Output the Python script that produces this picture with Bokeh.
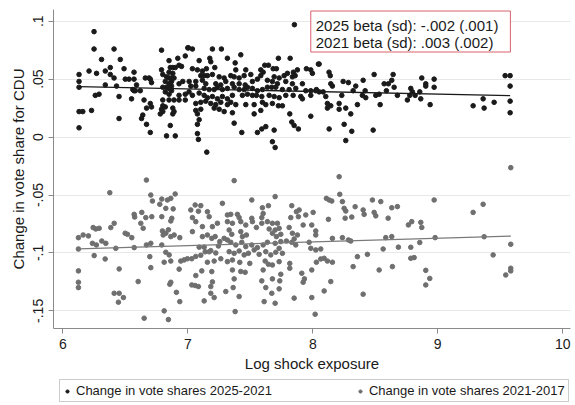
import numpy as np
from bokeh.plotting import figure
from bokeh.layouts import column
from bokeh.models import (Range1d, FixedTicker, Label, Legend, LegendItem)
from bokeh.embed import file_html
from bokeh.resources import INLINE

# ---------------- data ----------------
x_2025 = [
    6.25, 6.25, 6.41, 6.31, 6.46, 6.79, 7.00, 6.98, 6.13, 6.13, 6.13, 6.21, 6.27, 6.34, 6.38, 6.38,
    6.41, 6.49, 6.50, 6.53, 6.57, 6.57, 6.66, 6.69, 6.70, 6.71, 6.34, 6.43, 6.59, 6.56, 6.57, 6.58,
    6.62, 6.26, 6.29, 6.45, 6.55, 6.65, 6.70, 6.71, 6.67, 6.13, 6.16, 6.23, 6.64, 6.63, 6.45, 6.67,
    6.70, 6.13, 6.79, 6.80, 6.85, 6.86, 6.88, 6.90, 6.92, 6.93, 6.95, 6.85, 6.88, 6.83, 6.85, 6.87,
    6.89, 6.82, 6.85, 6.87, 6.80, 6.83, 6.85, 6.87, 6.93, 6.96, 6.82, 6.85, 6.87, 6.93, 6.98, 7.01,
    6.80, 6.85, 6.89, 6.93, 6.98, 6.80, 6.79, 6.82, 6.88, 6.89, 6.88, 6.78, 6.80, 6.86, 6.83, 6.90,
    7.853, 7.005, 7.037, 7.197, 7.269, 7.317, 7.424, 7.091, 7.176, 7.184, 7.379, 7.725, 7.819,
    7.037, 7.077, 7.117, 7.149, 7.216, 7.384, 7.464, 7.616, 7.645, 7.683, 7.709, 7.797, 7.845,
    7.877, 7.949, 7.984, 7.997, 8.045, 7.104, 7.131, 7.157, 7.197, 7.251, 7.291, 7.344, 7.371,
    7.411, 7.451, 7.504, 7.584, 7.603, 7.584, 7.691, 7.731, 7.771, 7.837, 7.859, 7.011, 7.064,
    7.117, 7.144, 7.224, 7.264, 7.304, 7.357, 7.411, 7.459, 7.517, 7.557, 7.637, 7.677, 7.717,
    7.784, 7.837, 7.917, 7.024, 7.064, 7.131, 7.171, 7.211, 7.237, 7.277, 7.317, 7.371, 7.411,
    7.451, 7.477, 7.517, 7.557, 7.597, 7.637, 7.672, 7.704, 7.757, 7.811, 7.864, 7.944, 7.984,
    8.029, 7.037, 7.091, 7.131, 7.157, 7.197, 7.237, 7.277, 7.317, 7.357, 7.437, 7.477, 7.517,
    7.549, 7.592, 7.651, 7.691, 7.731, 7.784, 7.843, 7.904, 7.984, 7.064, 7.104, 7.144, 7.184,
    7.224, 7.264, 7.317, 7.344, 7.384, 7.464, 7.531, 7.597, 7.624, 7.677, 7.725, 7.757, 7.917,
    7.064, 7.104, 7.077, 7.211, 7.251, 7.291, 7.357, 7.531, 7.584, 7.816, 7.984, 7.091, 7.077,
    7.371, 7.624, 7.592, 7.557, 7.432, 7.691, 7.832, 7.851, 7.885, 7.077, 7.085, 7.677, 7.699,
    7.152,
    8.677, 8.051, 8.13, 8.14, 8.491, 8.643, 8.243, 8.285, 8.403, 8.571, 8.605, 8.632, 8.872,
    8.904, 8.971, 8.144, 8.157, 8.344, 8.323, 8.024, 8.051, 8.083, 8.419, 8.397, 8.589, 8.651,
    8.677, 8.424, 8.504, 8.531, 8.784, 8.797, 8.819, 8.856, 8.904, 8.971, 8.776, 8.232, 8.104,
    8.757, 8.864, 8.117, 8.144, 8.117, 8.211, 8.211, 8.264, 8.357, 8.539, 8.939, 8.304, 8.131,
    8.251, 8.312, 8.483, 8.264,
    9.539, 9.579, 9.579, 9.363, 9.451, 9.283, 9.371, 9.579, 9.579,
]
y_2025 = [
    0.091, 0.076, 0.076, 0.067, 0.067, 0.075, 0.077, 0.070, 0.054, 0.048, 0.043, 0.057, 0.055, 0.057, 0.060, 0.054,
    0.051, 0.059, 0.050, 0.050, 0.056, 0.050, 0.051, 0.051, 0.050, 0.047, 0.045, 0.044, 0.045, 0.041, 0.040, 0.040,
    0.040, 0.036, 0.037, 0.035, 0.033, 0.032, 0.029, 0.026, 0.025, 0.022, 0.022, 0.023, 0.019, 0.016, 0.016, 0.011,
    0.004, 0.008, 0.058, 0.054, 0.066, 0.060, 0.060, 0.060, 0.068, 0.062, 0.061, 0.056, 0.055, 0.052, 0.051, 0.051,
    0.051, 0.048, 0.046, 0.048, 0.043, 0.043, 0.042, 0.044, 0.046, 0.048, 0.039, 0.037, 0.040, 0.036, 0.037, 0.039,
    0.032, 0.032, 0.032, 0.032, 0.032, 0.027, 0.024, 0.026, 0.025, 0.022, 0.020, 0.020, 0.022, 0.010, 0.001, 0.001,
    0.097, 0.077, 0.076, 0.076, 0.076, 0.068, 0.071, 0.066, 0.068, 0.065, 0.064, 0.068, 0.068,
    0.059, 0.058, 0.057, 0.059, 0.060, 0.058, 0.058, 0.062, 0.062, 0.059, 0.059, 0.055, 0.056,
    0.058, 0.059, 0.058, 0.055, 0.063, 0.053, 0.053, 0.053, 0.054, 0.052, 0.051, 0.053, 0.052,
    0.051, 0.053, 0.054, 0.058, 0.056, 0.053, 0.052, 0.051, 0.053, 0.052, 0.053, 0.048, 0.048,
    0.049, 0.046, 0.046, 0.045, 0.048, 0.046, 0.046, 0.045, 0.048, 0.050, 0.049, 0.048, 0.046,
    0.048, 0.046, 0.046, 0.044, 0.044, 0.042, 0.041, 0.041, 0.043, 0.041, 0.042, 0.043, 0.041,
    0.041, 0.043, 0.042, 0.040, 0.041, 0.043, 0.043, 0.043, 0.041, 0.041, 0.042, 0.040, 0.040,
    0.041, 0.036, 0.038, 0.036, 0.034, 0.035, 0.033, 0.035, 0.033, 0.036, 0.036, 0.037, 0.036,
    0.036, 0.035, 0.036, 0.035, 0.034, 0.036, 0.036, 0.035, 0.036, 0.029, 0.030, 0.031, 0.029,
    0.028, 0.030, 0.028, 0.030, 0.028, 0.028, 0.028, 0.030, 0.028, 0.029, 0.027, 0.027, 0.033,
    0.023, 0.024, 0.020, 0.025, 0.024, 0.022, 0.021, 0.020, 0.023, 0.020, 0.018, 0.015, 0.011,
    0.012, 0.009, 0.007, 0.004, 0.004, 0.006, 0.013, 0.010, 0.007, 0.003, -0.002, -0.004, -0.009,
    -0.013,
    0.078, 0.063, 0.056, 0.053, 0.054, 0.054, 0.048, 0.047, 0.049, 0.046, 0.046, 0.049, 0.051,
    0.046, 0.050, 0.046, 0.044, 0.044, 0.040, 0.040, 0.039, 0.039, 0.040, 0.036, 0.040, 0.043,
    0.036, 0.034, 0.036, 0.037, 0.042, 0.039, 0.036, 0.039, 0.044, 0.043, 0.036, 0.036, 0.035,
    0.032, 0.033, 0.029, 0.027, 0.025, 0.029, 0.024, 0.025, 0.028, 0.028, 0.028, 0.020, 0.007,
    0.011, 0.005, 0.006, -0.003,
    0.053, 0.053, 0.044, 0.033, 0.030, 0.027, 0.025, 0.031, 0.021,
]

x_2021 = [
    6.669, 6.376, 6.704, 6.717, 6.792, 6.837, 6.864, 6.899, 6.776, 6.824, 6.883, 6.632, 6.571, 6.575,
    6.664, 6.712, 6.792, 6.872, 6.864, 6.624, 6.643, 6.411, 6.384, 6.243, 6.264, 6.291, 6.499, 6.517,
    6.552, 6.797, 6.824, 6.845, 6.803, 6.864, 6.891, 6.936, 7.024, 7.037, 7.059, 7.104, 7.085, 7.157,
    7.171, 7.197, 7.237, 7.277, 7.064, 7.117, 7.037, 7.117, 7.157, 7.192, 7.219, 7.256, 7.291, 6.125,
    6.163, 6.205, 6.125, 6.237, 6.269, 6.312, 6.344, 6.424, 6.571, 6.669, 6.704, 6.792, 6.824, 6.851,
    6.251, 6.339, 6.696, 6.704, 6.811, 6.864, 6.944, 6.971, 6.931, 6.997, 7.032, 7.064, 7.104, 7.139,
    7.184, 7.091, 7.131, 7.171, 7.224, 7.245, 7.157, 7.211, 7.264, 7.112, 7.192, 7.064, 7.032, 7.059,
    7.085, 7.197, 7.184, 6.125, 6.125, 6.125, 6.451, 6.603, 6.864, 6.856, 6.909, 6.936, 7.131, 7.184,
    7.211, 6.411, 6.451, 6.485, 6.445, 6.811, 6.845, 6.651,
    7.371, 8.211, 8.216, 7.512, 7.699, 8.109, 8.131, 8.152, 8.237, 8.251, 8.264, 8.477, 8.544, 8.339,
    8.403, 8.411, 8.491, 8.504, 8.632, 8.603, 8.312, 8.259, 8.125, 7.317, 7.344, 7.397, 7.411,
    7.597, 7.645, 7.603, 7.592, 7.832, 7.869, 7.891, 7.944, 8.003, 7.824, 7.885, 7.317, 7.357, 7.424,
    7.464, 7.512, 7.517, 7.549, 7.592, 7.637, 7.677, 7.717, 7.651, 7.699, 7.731, 7.677, 7.744, 7.709,
    7.923, 7.992, 8.024, 7.811, 7.837, 7.877, 8.024, 7.331, 7.352, 7.424, 7.437, 7.469, 8.157, 8.237,
    8.285, 8.304, 8.584, 8.632, 7.317, 7.344, 7.384, 7.432, 7.464, 7.512, 7.557, 7.603, 7.637, 7.699,
    7.744, 7.789, 7.832, 7.864, 7.851, 7.971, 7.984, 8.024, 8.064, 8.563, 7.331, 7.371, 7.411,
    7.451, 7.485, 7.531, 7.571, 7.624, 7.664, 7.704, 7.757, 7.731, 7.317, 7.357, 7.416, 7.496, 7.619,
    7.645, 7.677, 7.731, 7.816, 7.816, 8.029, 8.064, 8.091, 8.117, 8.157, 8.323, 8.357, 8.437, 8.531,
    8.637, 7.357, 7.424, 7.459, 7.603, 7.744, 7.912, 7.992, 7.371, 7.592, 7.677, 7.736, 7.933, 7.923,
    8.144, 7.304, 7.363, 7.411, 7.624, 7.672, 7.731, 7.851, 7.992, 8.091, 8.403, 7.611, 7.699, 7.379,
    8.019,
    9.584, 8.677, 8.971, 9.363, 9.283, 8.765, 8.792, 8.864, 8.872, 8.979, 9.371, 9.584, 8.685, 8.784,
    8.856, 8.784, 8.811, 9.443, 8.904, 8.936, 8.904, 9.584, 9.584, 9.544,
]
y_2021 = [
    -0.0371, -0.0480, -0.0500, -0.0552, -0.0535, -0.0543, -0.0529, -0.0491, -0.0580, -0.0615, -0.0620, -0.0650, -0.0667, -0.0690,
    -0.0695, -0.0687, -0.0687, -0.0701, -0.0724, -0.0744, -0.0787, -0.0744, -0.0781, -0.0781, -0.0793, -0.0787, -0.0830, -0.0839,
    -0.0868, -0.0810, -0.0830, -0.0800, -0.0845, -0.0859, -0.0845, -0.0868, -0.0629, -0.0695, -0.0586, -0.0592, -0.0640, -0.0644,
    -0.0687, -0.0773, -0.0744, -0.0572, -0.0730, -0.0773, -0.0816, -0.0859, -0.0845, -0.0874, -0.0859, -0.0902, -0.0874, -0.0868,
    -0.0845, -0.0853, -0.0966, -0.0917, -0.0931, -0.0897, -0.0917, -0.0960, -0.0954, -0.0931, -0.0917, -0.0931, -0.0994, -0.1017,
    -0.1023, -0.1052, -0.1032, -0.1127, -0.1080, -0.1070, -0.1070, -0.1060, -0.1140, -0.1050, -0.1050, -0.1030, -0.1020, -0.0990,
    -0.0980, -0.0950, -0.0950, -0.0990, -0.1000, -0.0940, -0.1080, -0.1070, -0.1050, -0.1155, -0.1161, -0.1195, -0.1276, -0.1281,
    -0.1290, -0.1250, -0.1290, -0.1155, -0.1253, -0.1299, -0.1138, -0.1247, -0.1253, -0.1270, -0.1340, -0.1420, -0.1414, -0.1348,
    -0.1385, -0.1348, -0.1348, -0.1385, -0.1425, -0.1500, -0.1575, -0.1563,
    -0.0376, -0.0342, -0.0494, -0.0543, -0.0514, -0.0529, -0.0543, -0.0552, -0.0557, -0.0615, -0.0638, -0.0543, -0.0557, -0.0601,
    -0.0629, -0.0667, -0.0650, -0.0680, -0.0610, -0.0700, -0.0690, -0.0700, -0.0710, -0.0672, -0.0667, -0.0667, -0.0695,
    -0.0610, -0.0592, -0.0660, -0.0695, -0.0592, -0.0644, -0.0629, -0.0672, -0.0650, -0.0695, -0.0687, -0.0730, -0.0744, -0.0730,
    -0.0759, -0.0701, -0.0730, -0.0780, -0.0744, -0.0730, -0.0744, -0.0744, -0.0793, -0.0802, -0.0787, -0.0830, -0.0839, -0.0859,
    -0.0759, -0.0759, -0.0810, -0.0780, -0.0830, -0.0845, -0.0845, -0.0802, -0.0839, -0.0816, -0.0859, -0.0845, -0.0874, -0.0868,
    -0.0888, -0.0897, -0.0868, -0.0859, -0.0888, -0.0908, -0.0931, -0.0908, -0.0945, -0.0931, -0.0954, -0.0931, -0.0908, -0.0917,
    -0.0902, -0.0897, -0.0908, -0.0931, -0.0879, -0.0908, -0.0960, -0.0974, -0.0966, -0.0966, -0.0989, -0.1003, -0.0983,
    -0.1017, -0.1003, -0.0974, -0.1012, -0.0989, -0.1017, -0.0994, -0.1003, -0.0960, -0.1075, -0.1061, -0.1081, -0.1090, -0.1070,
    -0.1098, -0.1104, -0.1075, -0.1090, -0.1132, -0.1080, -0.1052, -0.1046, -0.1070, -0.1080, -0.1118, -0.1032, -0.1012, -0.1147,
    -0.1118, -0.1147, -0.1160, -0.1167, -0.1147, -0.1184, -0.1175, -0.1147, -0.1224, -0.1241, -0.1224, -0.1241, -0.1224, -0.1253,
    -0.1247, -0.1333, -0.1299, -0.1376, -0.1299, -0.1348, -0.1310, -0.1390, -0.1385, -0.1328, -0.1356, -0.1420, -0.1434, -0.1506,
    -0.1529,
    -0.0264, -0.0600, -0.0543, -0.0580, -0.0650, -0.0758, -0.0730, -0.0736, -0.0780, -0.0868, -0.0860, -0.0925, -0.0950, -0.0951,
    -0.0910, -0.1046, -0.1040, -0.1017, -0.1150, -0.1220, -0.1276, -0.1132, -0.1155, -0.1190,
]

x_ticks = [6, 7, 8, 9, 10]
y_ticks = [-0.15, -0.1, -0.05, 0, 0.05, 0.1]
y_tick_labels = ["-.15", "-.1", "-.05", "0", ".05", ".1"]
series_names = ["Change in vote shares 2025-2021", "Change in vote shares 2021-2017"]
beta_text = ["2025 beta (sd): -.002 (.001)", "2021 beta (sd): .003 (.002)"]
x_title = "Log shock exposure"
y_title = "Change in vote share for CDU"

# ---------------- figure ----------------
FONT = "Liberation Sans"
BLACK = "#1a1a1a"
GREY = "#6f6f6f"
DOT = 4.6

p = figure(width=575, height=377, output_backend="svg", toolbar_location=None,
           x_range=Range1d(5.9256, 10.062), y_range=Range1d(-0.1652, 0.1101),
           min_border_left=53, min_border_right=5, min_border_top=9, min_border_bottom=49)
p.background_fill_color = "white"
p.border_fill_color = "white"
p.outline_line_color = None

p.scatter(x_2025, y_2025, size=DOT, color=BLACK)
p.scatter(x_2021, y_2021, size=DOT, color=GREY)

# linear fits
xa, ya = np.array(x_2025), np.array(y_2025)
xb, yb = np.array(x_2021), np.array(y_2021)
b1 = np.polyfit(xa, ya, 1)
b2 = np.polyfit(xb, yb, 1)
xs1 = [float(xa.min()), float(xa.max())]
xs2 = [float(xb.min()), float(xb.max())]
p.line(xs1, [float(v) for v in np.polyval(b1, xs1)], line_color=BLACK, line_width=1.3)
p.line(xs2, [float(v) for v in np.polyval(b2, xs2)], line_color="#7a7a7a", line_width=1.3)

# axes
for ax in (p.xaxis[0], p.yaxis[0]):
    ax.axis_line_color = "#8a8a8a"
    ax.major_tick_line_color = "#8a8a8a"
    ax.minor_tick_line_color = None
    ax.major_tick_out = 5
    ax.major_tick_in = 0
    ax.major_label_text_font = FONT
    ax.major_label_text_font_size = "14px"
    ax.major_label_text_color = BLACK
    ax.axis_label_text_font = FONT
    ax.axis_label_text_font_size = "15px"
    ax.axis_label_text_font_style = "normal"
    ax.axis_label_text_color = BLACK

p.xaxis.ticker = FixedTicker(ticks=x_ticks)
p.xaxis.axis_label = x_title
p.xaxis.major_label_standoff = 5
p.xaxis.axis_label_standoff = 3

p.yaxis.ticker = FixedTicker(ticks=y_ticks)
p.yaxis.major_label_overrides = {t: l for t, l in zip(y_ticks, y_tick_labels)}
p.yaxis.major_label_orientation = "vertical"
p.yaxis.axis_label = y_title
p.yaxis.major_label_standoff = 5
p.yaxis.axis_label_standoff = 4

p.xgrid.grid_line_color = None
p.ygrid.grid_line_color = "#e8e8e8"
p.ygrid.grid_line_width = 1

# beta annotation box
lab = Label(x=7.984, y=0.1088, text="\n".join(beta_text), anchor="top_left",
            text_font=FONT, text_font_size="15px", text_color=BLACK,
            text_line_height=1.0,
            border_line_color="#d9606e", border_line_width=1,
            background_fill_color="white",
            padding=dict(left=5, right=12, top=6, bottom=1))
p.add_layout(lab)

# ---------------- legend strip below the chart ----------------
# the key markers reuse the first point of each series; that point lies outside
# this strip's visible range, so only the legend glyphs show
leg_fig = figure(width=575, height=28, output_backend="svg", toolbar_location=None,
                 x_range=Range1d(100, 101), y_range=Range1d(100, 101),
                 x_axis_type=None, y_axis_type=None,
                 min_border_left=0, min_border_right=0, min_border_top=0, min_border_bottom=0)
leg_fig.outline_line_color = None
leg_fig.grid.grid_line_color = None
k1 = leg_fig.scatter(x=x_2025[:1], y=y_2025[:1], size=3.6, color=BLACK)
k2 = leg_fig.scatter(x=x_2021[:1], y=y_2021[:1], size=3.6, color=GREY)

legend = Legend(items=[LegendItem(label=series_names[0], renderers=[k1]),
                       LegendItem(label=series_names[1], renderers=[k2])],
                orientation="horizontal", location=(6, 3),
                label_text_font=FONT, label_text_font_size="13px", label_text_color=BLACK,
                border_line_color="#999999", border_line_width=1,
                background_fill_color="white", glyph_width=8, glyph_height=10,
                label_standoff=5, spacing=84, padding=3, margin=0,
                label_height=14)
leg_fig.add_layout(legend, "center")

layout = column(p, leg_fig, spacing=0)
open("out.html", "w").write(file_html(layout, INLINE))
